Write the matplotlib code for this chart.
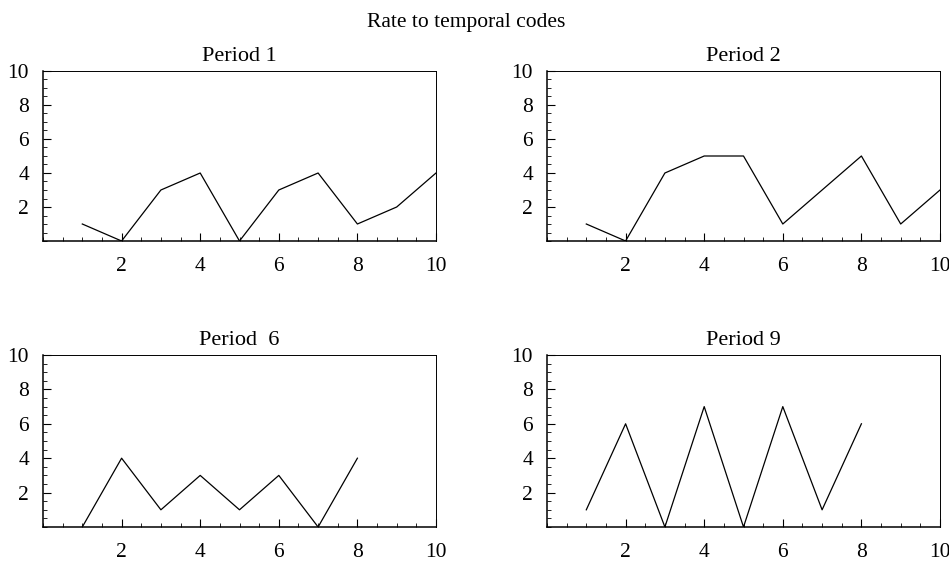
import matplotlib.pyplot as plt
import numpy as np
from matplotlib.ticker import MultipleLocator

plt.rcParams['font.family'] = ['Liberation Serif', 'DejaVu Serif']

# spike counts per bin for each period
x1 = [1, 2, 3, 4, 5, 6, 7, 8, 9, 10]
p1 = [1, 0, 3, 4, 0, 3, 4, 1, 2, 4]
p2 = [1, 0, 4, 5, 5, 1, 3, 5, 1, 3]
x2 = [1, 2, 3, 4, 5, 6, 7, 8]
p6 = [0, 4, 1, 3, 1, 3, 0, 4]
p9 = [1, 6, 0, 7, 0, 7, 1, 6]

titles = ["Period 1", "Period 2", "Period  6", "Period 9"]
xs = [x1, x1, x2, x2]
ys = [p1, p2, p6, p9]

fig = plt.figure(figsize=(9.49, 5.61), dpi=100)
W, H = 949, 561
# axes boxes in pixels: left, top, right, bottom
boxes = [(43, 71, 436, 241), (547, 71, 940, 241),
         (43, 355, 436, 527), (547, 355, 940, 527)]

for (l, t, r, b), x, y, ttl in zip(boxes, xs, ys, titles):
    ax = fig.add_axes([l / W, 1 - b / H, (r - l) / W, (b - t) / H])
    ax.plot(x, y, color='black', lw=0.9)
    ax.set_xlim(0, 10)
    ax.set_ylim(0, 10)
    ax.xaxis.set_minor_locator(MultipleLocator(0.5))
    ax.yaxis.set_minor_locator(MultipleLocator(0.5))
    ax.set_xticks([2, 4, 6, 8, 10])
    ax.set_yticks([2, 4, 6, 8, 10])
    ax.tick_params(which='major', direction='in', length=6, width=0.8,
                   labelsize=15.5, top=False, right=False)
    ax.tick_params(axis='x', which='major', pad=11.5)
    ax.tick_params(axis='y', which='major', pad=10)
    ax.tick_params(which='minor', direction='in', length=3, width=0.6,
                   top=False, right=False)
    for s in ['left', 'bottom']:
        ax.spines[s].set_linewidth(1.1)
    for s in ['top', 'right']:
        ax.spines[s].set_linewidth(0.7)
    ax.set_title(ttl, fontsize=16, pad=7)

fig.text(466 / W, 1 - 22 / H, "Rate to temporal codes", ha='center',
         va='center', fontsize=15.5)

fig.savefig("out.png", dpi=100)
